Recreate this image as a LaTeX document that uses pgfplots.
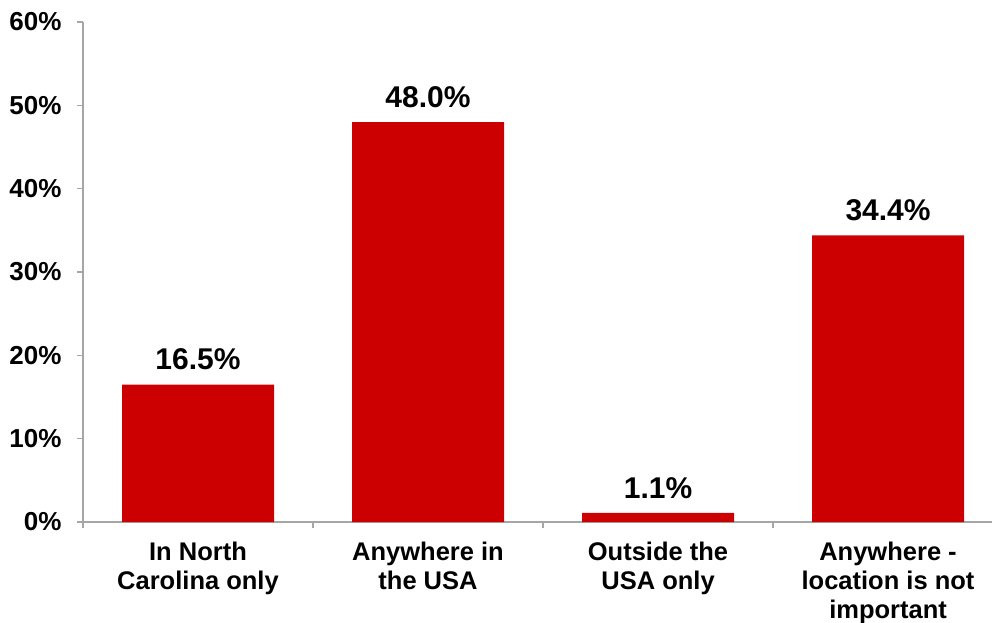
\documentclass[border=0pt]{standalone}
\usepackage{pgfplots}
\pgfplotsset{compat=1.18}
\usepackage{fontspec}
\setmainfont{Liberation Sans}
\definecolor{barred}{HTML}{CC0000}
\definecolor{axgray}{HTML}{A6A6A6}
\begin{document}
\begin{tikzpicture}[x=1pt,y=1pt]
\begin{axis}[
  at={(0,0)}, anchor=south west,
  scale only axis, width=909pt, height=500pt,
  xmin=-0.5, xmax=3.452, ymin=0, ymax=60,
  axis x line*=bottom, axis y line*=left,
  axis line style={draw=axgray, line width=1.5pt},
  ybar, bar width=152pt,
  ytick={0,10,20,30,40,50,60},
  yticklabel={\pgfmathprintnumber{\tick}\%},
  /pgf/number format/assume math mode=true,
  ytick style={draw=axgray, line width=1.5pt},
  major tick length=6pt,
  tick align=outside,
  xtick={0,1,2,3},
  xticklabels={{In North\\Carolina only},{Anywhere in\\the USA},{Outside the\\USA only},{Anywhere -\\location is not\\important}},
  xtick style={draw=none},
  minor xtick={-0.5,0.5,1.5,2.5},
  minor tick length=6pt,
  minor x tick style={draw=axgray, line width=1.5pt},
  yticklabel style={font=\bfseries\fontsize{26}{30}\selectfont, xshift=-12pt},
  xticklabel style={font=\bfseries\fontsize{25.5}{29}\selectfont, align=center, yshift=-10pt},
  nodes near coords={\pgfmathprintnumber[fixed,fixed zerofill,precision=1]{\pgfplotspointmeta}\%},
  nodes near coords style={font=\bfseries\fontsize{30}{34}\selectfont, yshift=11pt},
  clip=false,
]
\addplot[fill=barred, draw=none] coordinates {(0,16.5) (1,48.0) (2,1.1) (3,34.4)};
\end{axis}
\pgfresetboundingbox
\path (-83,-100) rectangle (909,522);
\end{tikzpicture}
\end{document}
